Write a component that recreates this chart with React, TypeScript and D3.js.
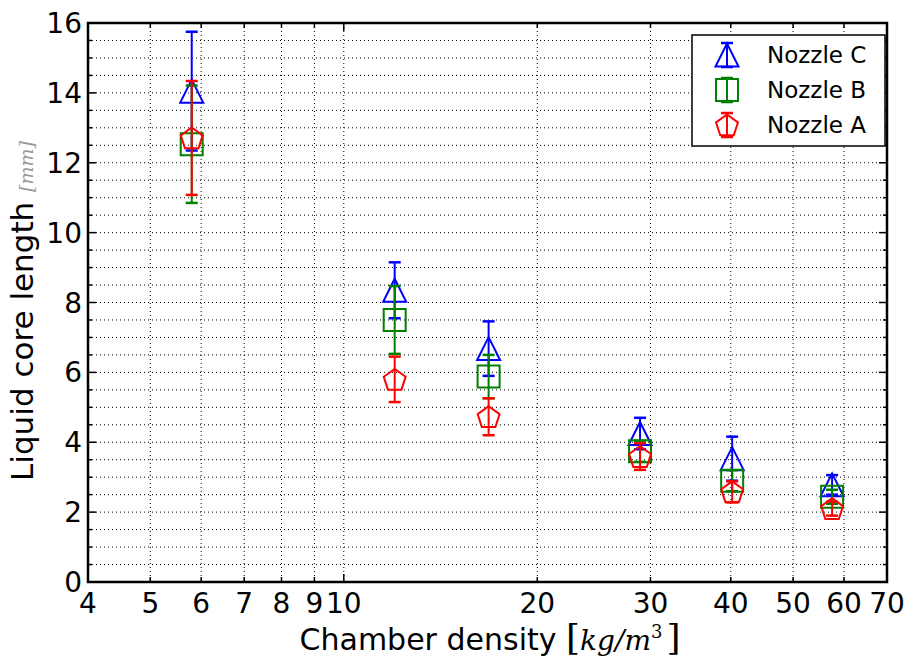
import React from 'react'
import * as d3 from 'd3'

// chamber density (kg/m^3) and liquid core length (mm)
const densities = [5.8, 12.0, 16.8, 28.9, 40.2, 57.5]
const nozzleC = [14.05, 8.35, 6.68, 4.25, 3.53, 2.78]
const nozzleCErr = [1.7, 0.8, 0.78, 0.45, 0.63, 0.28]
const nozzleB = [12.53, 7.5, 5.88, 3.74, 2.9, 2.44]
const nozzleBErr = [1.68, 0.97, 0.62, 0.3, 0.3, 0.2]
const nozzleA = [12.71, 5.8, 4.73, 3.59, 2.58, 2.1]
const nozzleAErr = [1.63, 0.65, 0.53, 0.38, 0.3, 0.2]

const xTicks = [4, 5, 6, 7, 8, 9, 10, 20, 30, 40, 50, 60, 70]
const yMajor = [0, 2, 4, 6, 8, 10, 12, 14, 16]

const W = 910, H = 662
const L = 88, R = 887, T = 23, B = 582
const FONT = 'DejaVu Sans, Verdana, sans-serif'
const SERIF = 'DejaVu Serif, serif'

const series = [
  { name: 'Nozzle C', color: '#0000ff', marker: 'tri', vals: nozzleC, errs: nozzleCErr },
  { name: 'Nozzle B', color: '#008000', marker: 'sq', vals: nozzleB, errs: nozzleBErr },
  { name: 'Nozzle A', color: '#ff0000', marker: 'pent', vals: nozzleA, errs: nozzleAErr },
]

function markerPath(kind: string, cx: number, cy: number) {
  const line = d3.line().curve(d3.curveLinearClosed)
  if (kind === 'tri') {
    const s = 23
    return line([[cx, cy - s / 2], [cx + s / 2, cy + s / 2], [cx - s / 2, cy + s / 2]])
  }
  if (kind === 'sq') {
    const s = 22
    return line([[cx - s / 2, cy - s / 2], [cx + s / 2, cy - s / 2], [cx + s / 2, cy + s / 2], [cx - s / 2, cy + s / 2]])
  }
  const r = 11.5
  const pts: [number, number][] = d3.range(5).map(k => {
    const a = -Math.PI / 2 + k * 2 * Math.PI / 5
    return [cx + r * Math.cos(a), cy + 1 + r * Math.sin(a)]
  })
  return line(pts)
}

export default function App() {
  const x = d3.scaleLog().domain([4, 70]).range([L, R])
  const y = d3.scaleLinear().domain([0, 16]).range([B, T])
  const yMinor = d3.range(0, 16.01, 0.5)

  return (
    <svg width={W} height={H} style={{ position: 'absolute', left: 0, top: 0, background: '#fff' }}>
      {/* grid */}
      {yMinor.filter(v => v > 0 && v < 16).map(v => (
        <line key={'gy' + v} x1={L} x2={R} y1={y(v)} y2={y(v)} stroke="#000" strokeWidth={1} strokeDasharray="1,3" />
      ))}
      {xTicks.filter(v => v > 4 && v < 70).map(v => (
        <line key={'gx' + v} x1={x(v)} x2={x(v)} y1={T} y2={B} stroke="#000" strokeWidth={1} strokeDasharray="1,3" />
      ))}

      {/* ticks, inward on all sides */}
      {yMinor.map(v => {
        const len = yMajor.includes(v) ? 8 : 4
        return (
          <g key={'ty' + v} stroke="#000" strokeWidth={1.5}>
            <line x1={L} x2={L + len} y1={y(v)} y2={y(v)} />
            <line x1={R} x2={R - len} y1={y(v)} y2={y(v)} />
          </g>
        )
      })}
      {xTicks.map(v => {
        const len = v === 10 ? 8 : 5
        return (
          <g key={'tx' + v} stroke="#000" strokeWidth={1.5}>
            <line x1={x(v)} x2={x(v)} y1={B} y2={B - len} />
            <line x1={x(v)} x2={x(v)} y1={T} y2={T + len} />
          </g>
        )
      })}

      {/* tick labels */}
      {yMajor.map(v => (
        <text key={'ly' + v} x={L - 6} y={y(v) + 10} textAnchor="end" fontFamily={FONT} fontSize={28}>{v}</text>
      ))}
      {xTicks.map(v => (
        <text key={'lx' + v} x={x(v)} y={613} textAnchor="middle" fontFamily={FONT} fontSize={28}>{v}</text>
      ))}

      {/* data */}
      {series.map(s => (
        <g key={s.name} stroke={s.color} strokeWidth={2} fill="none">
          {densities.map((d, i) => {
            const cx = x(d)
            const top = y(s.vals[i] + s.errs[i])
            const bot = y(s.vals[i] - s.errs[i])
            return (
              <g key={i}>
                <line x1={cx} x2={cx} y1={top} y2={bot} />
                <line x1={cx - 6} x2={cx + 6} y1={top} y2={top} strokeWidth={2.5} />
                <line x1={cx - 6} x2={cx + 6} y1={bot} y2={bot} strokeWidth={2.5} />
                <path d={markerPath(s.marker, cx, y(s.vals[i])) || ''} />
              </g>
            )
          })}
        </g>
      ))}

      {/* frame */}
      <rect x={L} y={T} width={R - L} height={B - T} fill="none" stroke="#000" strokeWidth={2.5} />

      {/* legend */}
      <g>
        <rect x={692} y={35} width={193} height={111} fill="#fff" stroke="#000" strokeWidth={1.5} />
        {series.map((s, i) => {
          const cy = 55 + i * 35
          const cx = 727
          return (
            <g key={'lg' + s.name}>
              <g stroke={s.color} strokeWidth={2} fill="none">
                <line x1={cx} x2={cx} y1={cy - 12} y2={cy + 12} />
                <line x1={cx - 6} x2={cx + 6} y1={cy - 12} y2={cy - 12} strokeWidth={2.5} />
                <line x1={cx - 6} x2={cx + 6} y1={cy + 12} y2={cy + 12} strokeWidth={2.5} />
                <path d={markerPath(s.marker, cx, cy) || ''} />
              </g>
              <text x={767} y={cy + 8} fontFamily={FONT} fontSize={23}>{s.name}</text>
            </g>
          )
        })}
      </g>

      {/* axis labels */}
      <text x={490} y={650} textAnchor="middle" fontFamily={FONT} fontSize={30}>
        Chamber density{' '}
        <tspan fontFamily={SERIF} fontSize={36} fontWeight={100}>[</tspan>
        <tspan fontFamily={SERIF} fontStyle="italic" fontSize={28}>kg/m</tspan>
        <tspan fontFamily={SERIF} fontSize={18} dy={-12}>3</tspan>
        <tspan fontFamily={SERIF} fontSize={36} dy={12} dx={4}>]</tspan>
      </text>
      <text transform={`translate(33,311) rotate(-90)`} textAnchor="middle" fontFamily={FONT} fontSize={31}>
        Liquid core length{' '}
        <tspan fontFamily={SERIF} fontStyle="italic" fontSize={19} fill="#999">[mm]</tspan>
      </text>
    </svg>
  )
}
